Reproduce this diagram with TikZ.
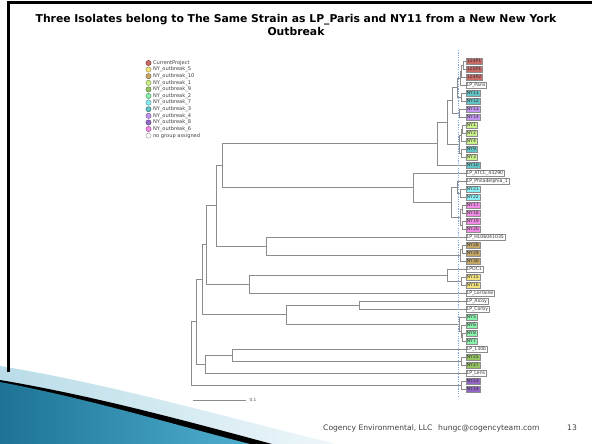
\documentclass[tikz,border=0pt]{standalone}
\usepackage{fontspec}
\setmainfont{DejaVu Sans}
\usetikzlibrary{calc}
\definecolor{brc}{HTML}{8C8C8C}
\definecolor{cp}{HTML}{C86A66}
\definecolor{o5}{HTML}{F2E27E}
\definecolor{o10}{HTML}{C4A666}
\definecolor{o1}{HTML}{CBF08A}
\definecolor{o9}{HTML}{94C260}
\definecolor{o2}{HTML}{88EFAC}
\definecolor{o7}{HTML}{88EEF2}
\definecolor{o3}{HTML}{62C2C4}
\definecolor{o4}{HTML}{C294EE}
\definecolor{o8}{HTML}{9466C6}
\definecolor{o6}{HTML}{F08AE4}
\definecolor{guidec}{HTML}{86A8E0}
\definecolor{footc}{HTML}{404040}
\definecolor{swlightL}{HTML}{B9DCE8}
\definecolor{swlightR}{HTML}{EEF7FA}
\definecolor{swdark}{HTML}{1D7394}
\definecolor{swmid}{HTML}{4FAFCF}
\newcommand\lf[4]{\node[leaf, fill=#4] (#1) at (465.5,#2) {#3};}
\newcommand\jn[4]{%
  \path let \p1=($(#3)!0.5!(#4)$) in coordinate (#1) at (#2,\y1);
  \draw[br] (#1) |- (#3);
  \draw[br] (#1) |- (#4);}
\begin{document}
\begin{tikzpicture}[x=1pt,y=-1pt,
  br/.style={draw=brc, line width=0.8pt},
  leaf/.style={draw=black!45, line width=0.4pt, inner xsep=1.1pt, inner ysep=0pt,
    minimum height=6.4pt, anchor=west, font=\fontsize{4.6}{5}\selectfont, text=black!80},
  lgdot/.style={circle, line width=0.5pt, minimum size=5.2pt, inner sep=0pt},
  lgtext/.style={anchor=west, inner sep=0pt, font=\fontsize{5.1}{6}\selectfont, text=black!75},
  guide/.style={draw=guidec, line width=0.6pt, dash pattern=on 1.2pt off 1.2pt},
  foot/.style={anchor=west, inner sep=0pt, text=footc, font=\fontsize{7.6}{9}\selectfont}]
\useasboundingbox (0,0) rectangle (592,444);
\fill[white] (0,0) rectangle (592,444);

% swoosh
\shade[left color=swlightL, right color=swlightR] (0,366) .. controls (110,384) and (230,418) .. (336,444) -- (0,444) -- cycle;
\fill[black] (0,380) .. controls (95,396) and (190,422) .. (272,444) -- (0,444) -- cycle;
\shade[left color=swdark, right color=swmid] (0,382) .. controls (90,399) and (175,425) .. (250,444) -- (0,444) -- cycle;

% frame
\draw[black, line width=2.6pt] (8.5,372) -- (8.5,2.5) -- (592,2.5);

% title
\node[font=\bfseries\fontsize{10.8}{13}\selectfont, align=center, inner sep=0pt] (title) at (296,25)
  {Three Isolates belong to The Same Strain as LP\_Paris and NY11 from a New New York\\Outbreak};

% legend
\foreach \c/\t [count=\i from 0] in {cp/CurrentProject, o5/NY\_outbreak\_5, o10/NY\_outbreak\_10,
   o1/NY\_outbreak\_1, o9/NY\_outbreak\_9, o2/NY\_outbreak\_2, o7/NY\_outbreak\_7, o3/NY\_outbreak\_3,
   o4/NY\_outbreak\_4, o8/NY\_outbreak\_8, o6/NY\_outbreak\_6, white/no group assigned}{
  \node[lgdot, draw=\c!65!black, fill=\c] (lgc\i) at (148.5,{63+6.6*\i}) {};
  \node[lgtext] (lgt\i) at (152.8,{63+6.6*\i}) {\t};
}

% leaves
\lf{L0}{61}{114P1}{cp}
\lf{L1}{69}{115P1}{cp}
\lf{L2}{77}{114P2}{cp}
\lf{L3}{85}{LP\_Paris}{white}
\lf{L4}{93}{NY11}{o3}
\lf{L5}{101}{NY12}{o3}
\lf{L6}{109}{NY13}{o4}
\lf{L7}{117}{NY14}{o4}
\lf{L8}{125}{NY1}{o1}
\lf{L9}{133}{NY2}{o1}
\lf{L10}{141}{NY4}{o1}
\lf{L11}{149}{NY9}{o3}
\lf{L12}{157}{NY3}{o1}
\lf{L13}{165}{NY10}{o3}
\lf{L14}{173}{LP\_ATCC\_43290}{white}
\lf{L15}{181}{LP\_Philadelphia\_1}{white}
\lf{L16}{189}{NY21}{o7}
\lf{L17}{197}{NY22}{o7}
\lf{L18}{205}{NY17}{o6}
\lf{L19}{213}{NY18}{o6}
\lf{L20}{221}{NY19}{o6}
\lf{L21}{229}{NY20}{o6}
\lf{L22}{237}{LP\_HL06041035}{white}
\lf{L23}{245}{NY28}{o10}
\lf{L24}{253}{NY29}{o10}
\lf{L25}{261}{NY30}{o10}
\lf{L26}{269}{LPOC1}{white}
\lf{L27}{277}{NY15}{o5}
\lf{L28}{285}{NY16}{o5}
\lf{L29}{293}{LP\_Lorraine}{white}
\lf{L30}{301}{LP\_Alcoy}{white}
\lf{L31}{309}{LP\_Corby}{white}
\lf{L32}{317}{NY5}{o2}
\lf{L33}{325}{NY6}{o2}
\lf{L34}{333}{NY8}{o2}
\lf{L35}{341}{NY7}{o2}
\lf{L36}{349}{LP\_130b}{white}
\lf{L37}{357}{NY25}{o9}
\lf{L38}{365}{NY27}{o9}
\lf{L39}{373}{LP\_Lens}{white}
\lf{L40}{381}{NY23}{o8}
\lf{L41}{389}{NY24}{o8}

% tree (inner nodes: name, x, child, child)
\jn{a1}{463}{L0}{L1}
\jn{a2}{461.5}{a1}{L2}
\jn{a3}{460}{a2}{L3}
\jn{a4}{461}{L4}{L5}
\jn{a5}{457.3}{a3}{a4}
\jn{a6}{459}{L6}{L7}
\jn{a7}{452.7}{a5}{a6}
\jn{b1}{462}{L8}{L9}
\jn{b2}{461}{b1}{L10}
\jn{b3}{461}{L11}{L12}
\jn{b4}{459}{b2}{b3}
\jn{a8}{447.3}{a7}{b4}
\jn{a9}{437.3}{a8}{L13}
\jn{c1}{460}{L16}{L17}
\jn{c2}{457}{L15}{c1}
\jn{d1}{462}{L18}{L19}
\jn{d2}{462}{L20}{L21}
\jn{d3}{460}{d1}{d2}
\jn{c3}{451.7}{c2}{d3}
\jn{c4}{413.3}{L14}{c3}
\jn{R1}{222.7}{a9}{c4}
\jn{e1}{462}{L23}{L24}
\jn{e2}{460}{e1}{L25}
\jn{E}{266.7}{L22}{e2}
\jn{R2}{216.7}{R1}{E}
\jn{f1}{461}{L27}{L28}
\jn{f2}{447.3}{L26}{f1}
\jn{F}{249.3}{f2}{L29}
\jn{R3}{206.7}{R2}{F}
\jn{G1}{359.3}{L30}{L31}
\jn{g1}{462.5}{L34}{L35}
\jn{g2}{461}{L33}{g1}
\jn{g3}{459.5}{L32}{g2}
\jn{G}{286.7}{G1}{g3}
\jn{R4}{202.3}{R3}{G}
\jn{h1}{461}{L37}{L38}
\jn{H1}{232.7}{L36}{h1}
\jn{H}{205}{H1}{L39}
\jn{R5}{196.7}{R4}{H}
\jn{h2}{461}{L40}{L41}
\jn{root}{191.7}{R5}{h2}

% dashed guide
\coordinate (gT) at (458.5,50);
\coordinate (gB) at (458.5,396);
\draw[guide] (gT) -- (gB);

% scale bar
\coordinate (sbL) at (193,400);
\coordinate (sbR) at (246,400);
\draw[br] (sbL) -- (sbR);
\node[anchor=west, inner sep=0pt, font=\fontsize{4.2}{5}\selectfont, text=black!70] (sbT) at (249.5,400.3) {0.1};

% footer
\node[foot] (f1) at (323,428) {Cogency Environmental, LLC};
\node[foot] (f2) at (438,428) {hungc@cogencyteam.com};
\node[foot] (f3) at (567,428) {13};
\end{tikzpicture}
\end{document}
